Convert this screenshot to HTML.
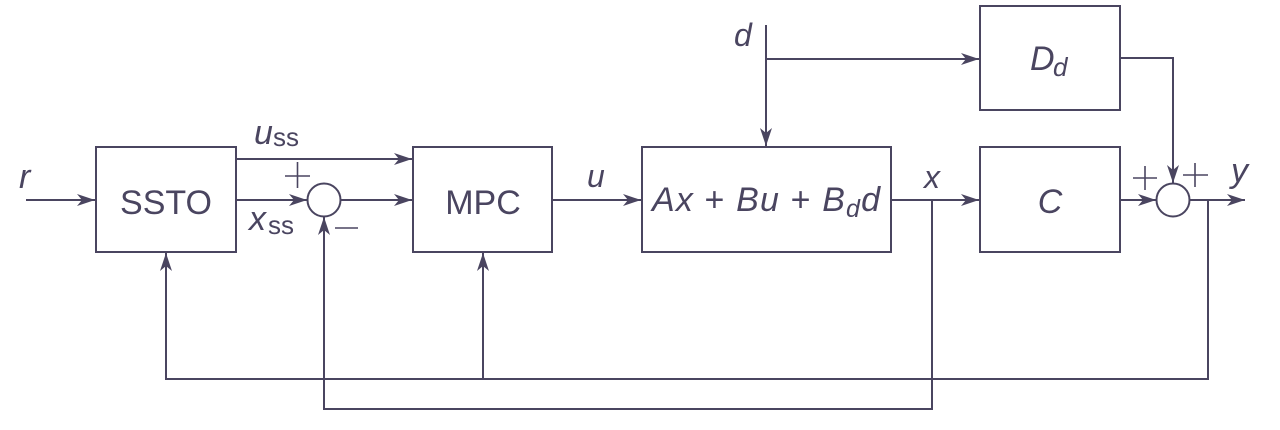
<!DOCTYPE html>
<html><head><meta charset="utf-8"><style>
html,body{margin:0;padding:0;background:#fff;width:1280px;height:430px;overflow:hidden}
svg text{font-family:"Liberation Sans",sans-serif;fill:#4a4560}
.i{font-style:italic}
</style></head><body>
<svg width="1280" height="430" viewBox="0 0 1280 430" xmlns="http://www.w3.org/2000/svg">
<defs><marker id="a" viewBox="0 0 18 12" refX="18" refY="6" markerWidth="18" markerHeight="12" markerUnits="userSpaceOnUse" orient="auto"><path d="M0,0 L18,6 L0,12 L5,6 Z" fill="#4a4560"/></marker></defs>
<g fill="none" stroke="#4a4560" stroke-width="2">
<rect x="96" y="147" width="140" height="105"/>
<rect x="413" y="147" width="139" height="105"/>
<rect x="642" y="147" width="249" height="105"/>
<rect x="980" y="147" width="140" height="105"/>
<rect x="980" y="6" width="140" height="104"/>
<circle cx="324" cy="200" r="16.5"/>
<circle cx="1173" cy="200" r="16.5"/>
<line x1="26" y1="200" x2="95" y2="200" marker-end="url(#a)"/>
<line x1="236" y1="159" x2="412" y2="159" marker-end="url(#a)"/>
<line x1="236" y1="200" x2="307" y2="200" marker-end="url(#a)"/>
<line x1="341" y1="200" x2="412" y2="200" marker-end="url(#a)"/>
<line x1="552" y1="200" x2="641" y2="200" marker-end="url(#a)"/>
<line x1="891" y1="200" x2="979" y2="200" marker-end="url(#a)"/>
<line x1="1120" y1="200" x2="1156" y2="200" marker-end="url(#a)"/>
<line x1="1190" y1="200" x2="1245" y2="200" marker-end="url(#a)"/>
<line x1="766" y1="25" x2="766" y2="146" marker-end="url(#a)"/>
<line x1="766" y1="59" x2="979" y2="59" marker-end="url(#a)"/>
<polyline points="1121,58 1173,58 1173,183" marker-end="url(#a)"/>
<polyline points="1208,200 1208,379 166,379 166,253" marker-end="url(#a)"/>
<line x1="483" y1="379" x2="483" y2="253" marker-end="url(#a)"/>
<polyline points="932,200 932,409 324,409 324,217" marker-end="url(#a)"/>
</g>
<g stroke="#4a4560" stroke-width="1.6">
<line x1="285" y1="176" x2="310" y2="176"/><line x1="297.5" y1="162" x2="297.5" y2="188"/>
<line x1="335" y1="228" x2="358" y2="228"/>
<line x1="1133" y1="178" x2="1157" y2="178"/><line x1="1145" y1="166" x2="1145" y2="190"/>
<line x1="1183" y1="175" x2="1208" y2="175"/><line x1="1195" y1="163" x2="1195" y2="187"/>
</g>
<text x="19" y="188" font-size="34" class="i">r</text>
<text x="166" y="214" font-size="34" text-anchor="middle">SSTO</text>
<text x="483" y="214" font-size="34" text-anchor="middle">MPC</text>
<text x="254" y="144" font-size="34" class="i">u</text><text x="273" y="146" font-size="26">ss</text>
<text x="249" y="230" font-size="34" class="i">x</text><text x="268" y="234" font-size="26">ss</text>
<text x="587" y="187" font-size="32" class="i">u</text>
<text x="734" y="46" font-size="32" class="i">d</text>
<text x="652" y="211" font-size="34" textLength="228"><tspan class="i">Ax</tspan> + <tspan class="i">Bu</tspan> + <tspan class="i">B</tspan><tspan class="i" font-size="25" dy="6">d</tspan><tspan class="i" dy="-6">d</tspan></text>
<text x="924" y="188" font-size="32" class="i">x</text>
<text x="1050" y="213" font-size="34" class="i" text-anchor="middle">C</text>
<text x="1030" y="70" font-size="34" class="i">D</text><text x="1053" y="76" font-size="26" class="i">d</text>
<text x="1231" y="182" font-size="34" class="i">y</text>
</svg>
</body></html>
